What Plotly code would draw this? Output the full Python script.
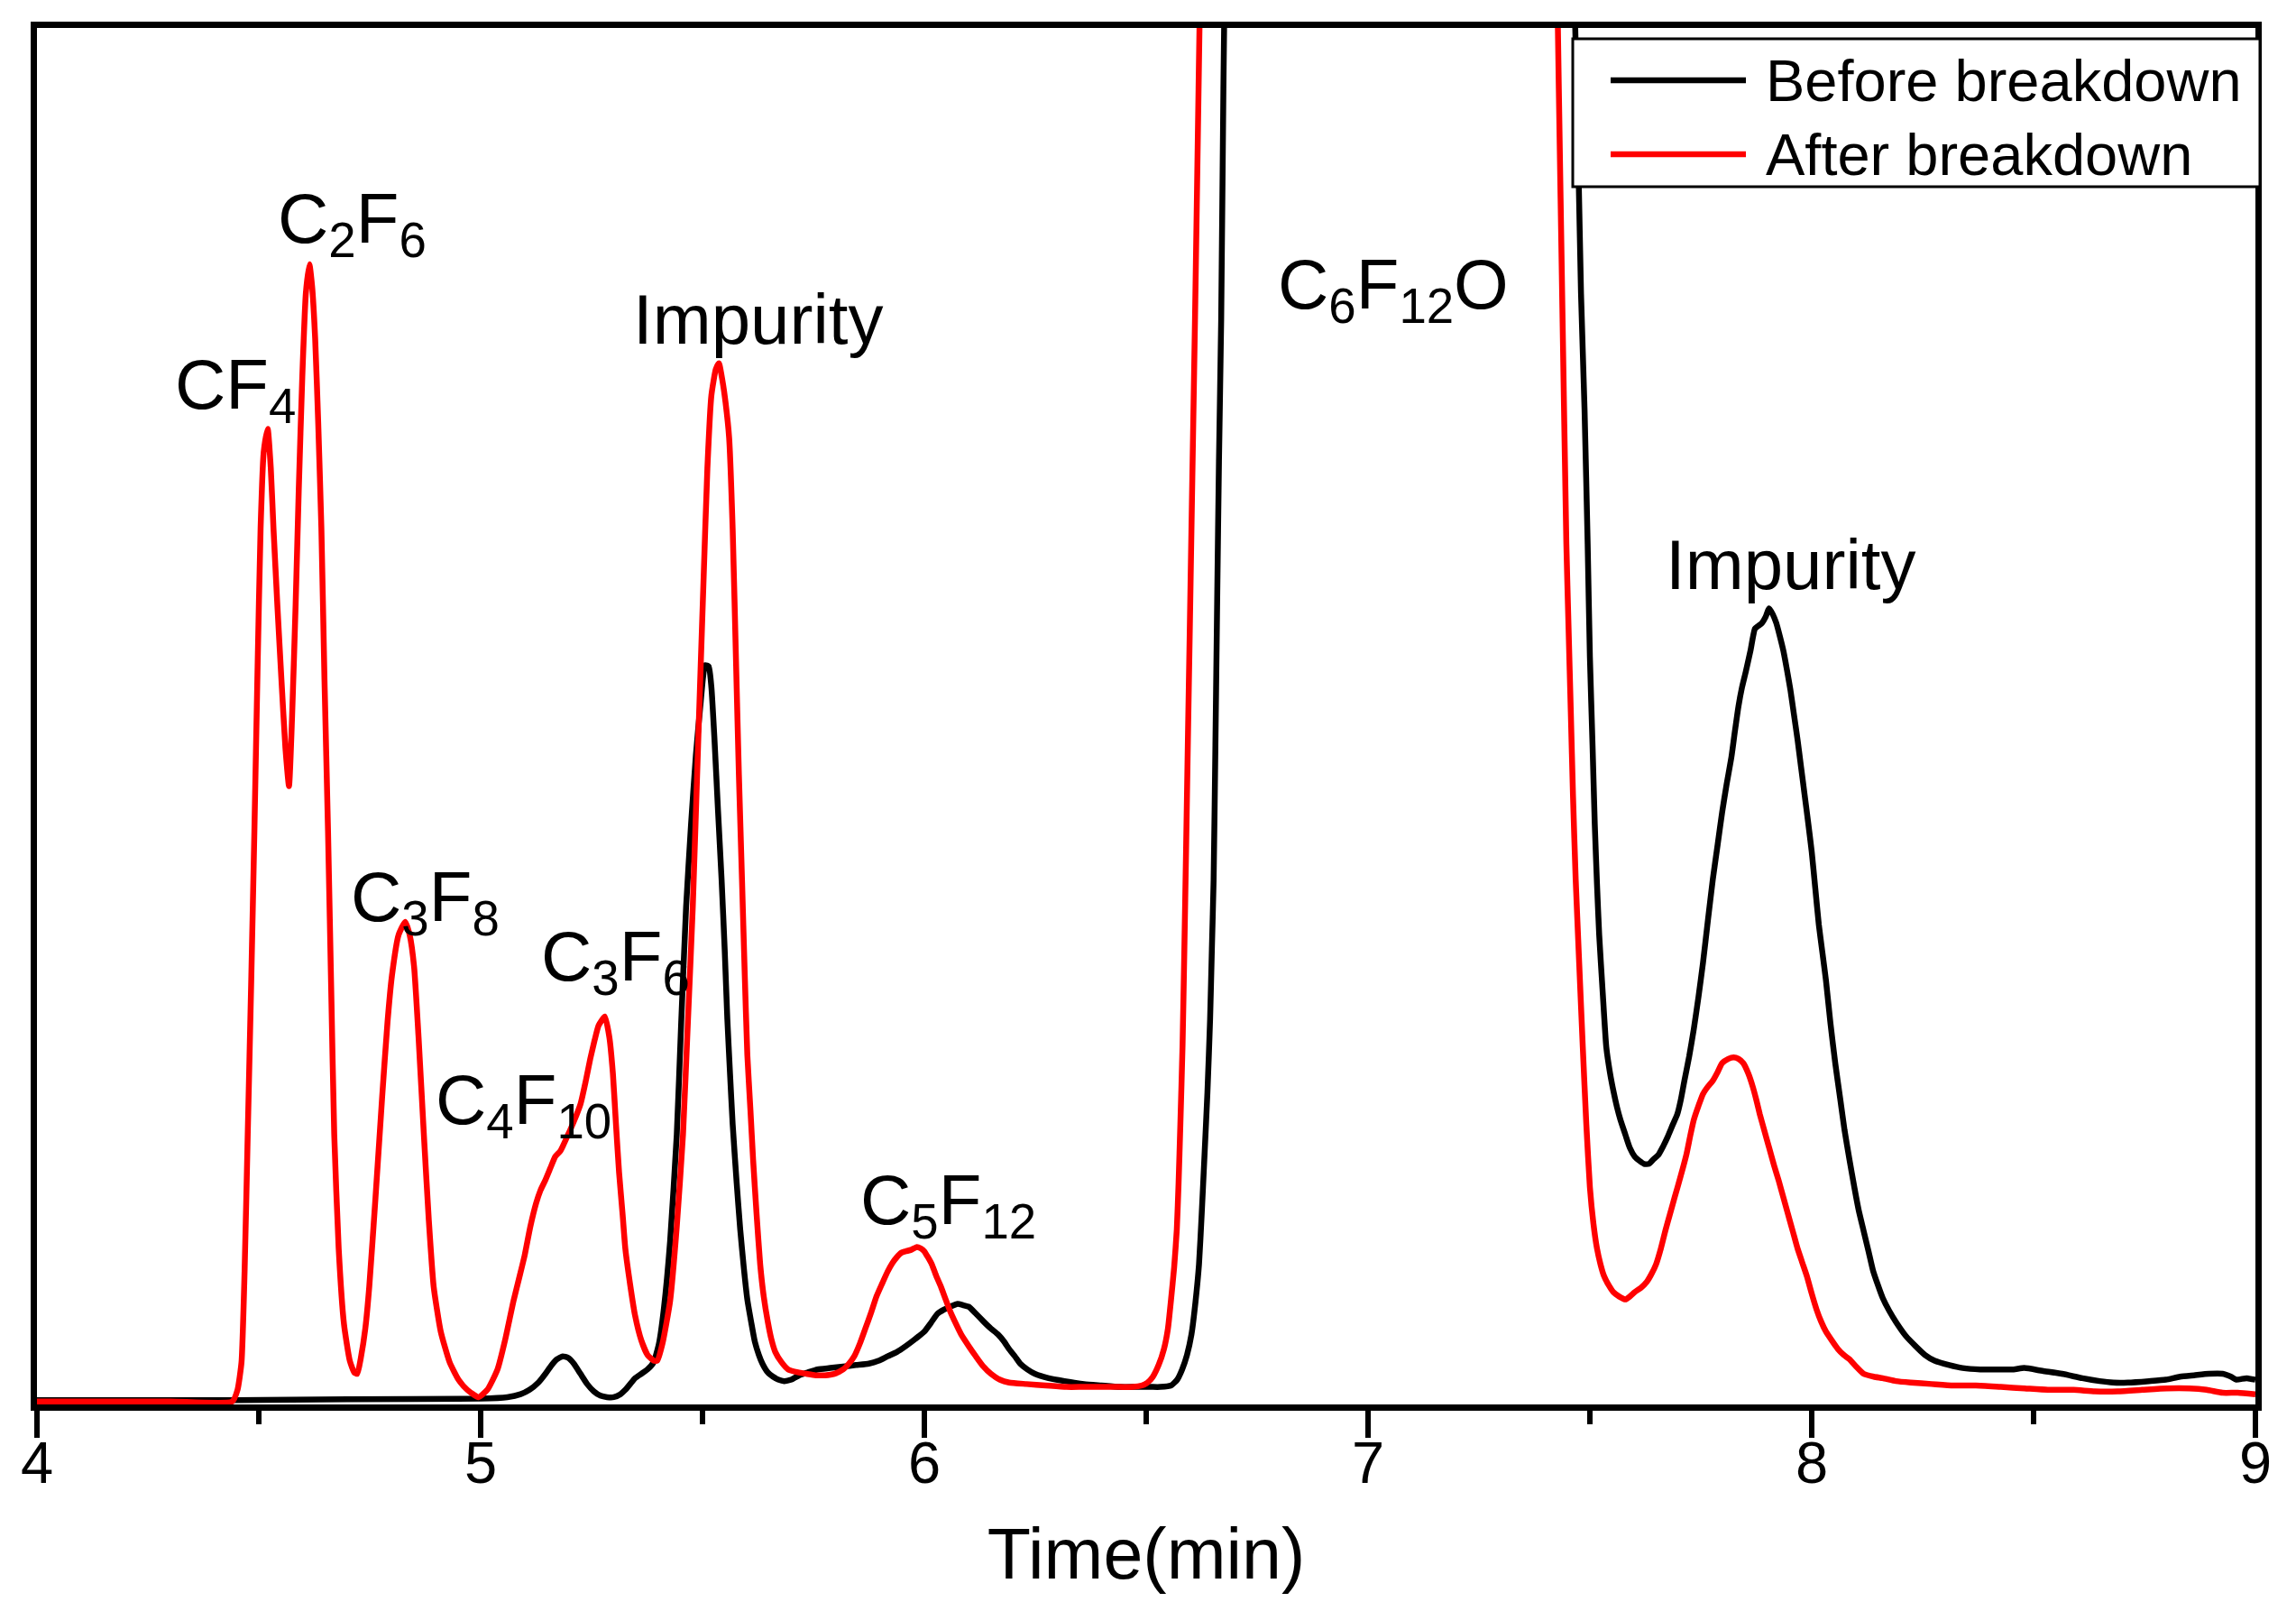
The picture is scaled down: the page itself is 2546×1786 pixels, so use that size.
import plotly.graph_objects as go

# chromatogram traces, signal in arbitrary units (0 = baseline)
red_time = [
    4.00, 4.30, 4.44, 4.452, 4.461, 4.468, 4.475, 4.483, 4.490, 4.497, 4.504, 4.511, 4.520, 4.527,
    4.533, 4.542, 4.551, 4.560, 4.568, 4.575, 4.583, 4.590, 4.598, 4.606, 4.614, 4.620, 4.627, 4.634,
    4.641, 4.648, 4.656, 4.663, 4.670, 4.680, 4.692, 4.705, 4.715, 4.722, 4.730, 4.740, 4.749, 4.763,
    4.778, 4.790, 4.800, 4.815, 4.830, 4.840, 4.850, 4.860, 4.872, 4.883, 4.894, 4.910, 4.930, 4.950,
    4.970, 4.995, 5.015, 5.038, 5.055, 5.074, 5.087, 5.099, 5.112, 5.125, 5.135, 5.146, 5.157, 5.168,
    5.180, 5.197, 5.210, 5.225, 5.237, 5.247, 5.257, 5.266, 5.280, 5.290, 5.298, 5.305, 5.312, 5.320,
    5.326, 5.337, 5.348, 5.362, 5.376, 5.390, 5.398, 5.410, 5.427, 5.442, 5.456, 5.467, 5.478, 5.490,
    5.502, 5.511, 5.520, 5.530, 5.537, 5.545, 5.552, 5.560, 5.568, 5.576, 5.582, 5.589, 5.595, 5.601,
    5.608, 5.614, 5.622, 5.630, 5.638, 5.647, 5.655, 5.664, 5.678, 5.693, 5.715, 5.734, 5.755, 5.776,
    5.797, 5.817, 5.830, 5.842, 5.855, 5.867, 5.880, 5.892, 5.905, 5.917, 5.928, 5.938, 5.948, 5.958,
    5.970, 5.983, 5.992, 6.000, 6.008, 6.017, 6.027, 6.037, 6.048, 6.058, 6.070, 6.083, 6.100, 6.116,
    6.133, 6.150, 6.170, 6.191, 6.230, 6.274, 6.320, 6.357, 6.400, 6.440, 6.470, 6.490, 6.503, 6.515,
    6.528, 6.540, 6.549, 6.556, 6.563, 6.569, 6.573, 6.577, 6.582, 6.586, 6.590, 6.594, 6.598, 6.602,
    6.606, 6.610, 6.614, 6.618, 6.622, 6.630, 6.650, 6.700, 7.000, 7.350, 7.400, 7.420, 7.430, 7.438,
    7.447, 7.452, 7.457, 7.462, 7.468, 7.476, 7.484, 7.492, 7.500, 7.508, 7.516, 7.524, 7.532, 7.542,
    7.553, 7.566, 7.580, 7.590, 7.601, 7.615, 7.628, 7.638, 7.649, 7.660, 7.670, 7.680, 7.691, 7.705,
    7.718, 7.726, 7.734, 7.745, 7.755, 7.766, 7.777, 7.788, 7.798, 7.812, 7.824, 7.835, 7.846, 7.857,
    7.867, 7.875, 7.883, 7.893, 7.904, 7.915, 7.926, 7.936, 7.947, 7.958, 7.968, 7.979, 7.989, 8.000,
    8.011, 8.021, 8.032, 8.045, 8.059, 8.072, 8.085, 8.100, 8.117, 8.140, 8.160, 8.190, 8.223, 8.270,
    8.319, 8.370, 8.426, 8.480, 8.532, 8.590, 8.638, 8.690, 8.745, 8.800, 8.851, 8.890, 8.926, 8.960,
    9.000,
]
red_signal = [
    0, 0, 0, 8, 27, 90, 183, 290, 391, 500, 599, 651, 667, 640,
    599, 545, 495, 448, 422, 470, 547, 625, 703, 760, 780, 765, 729, 670,
    599, 495, 391, 285, 183, 105, 53, 28, 20, 19, 30, 50, 79, 140,
    209, 260, 292, 320, 329, 320, 298, 250, 183, 125, 79, 48, 27, 15,
    8, 3, 8, 22, 42, 69, 85, 100, 120, 136, 145, 152, 160, 168,
    172, 183, 192, 204, 220, 235, 248, 258, 264, 250, 225, 190, 157, 128,
    105, 80, 59, 42, 32, 28, 28, 40, 69, 120, 183, 260, 339, 450,
    560, 640, 690, 708, 712, 700, 685, 661, 598, 502, 430, 358, 295, 238,
    200, 166, 128, 94, 72, 55, 43, 34, 27, 22, 20, 19, 18, 18,
    19, 22, 26, 31, 40, 50, 61, 72, 81, 89, 95, 99, 102, 103,
    104, 106, 105, 103, 99, 94, 86, 79, 70, 62, 54, 46, 38, 31,
    24, 19, 15, 13, 12, 11, 10, 10, 10, 10, 10, 11, 13, 17,
    25, 36, 50, 70, 92, 118, 150, 190, 245, 310, 380, 454, 525, 598,
    670, 742, 820, 900, 980, 1150, 1500, 2100, 2600, 2100, 1500, 1100, 900, 750,
    588, 530, 473, 415, 358, 300, 243, 190, 147, 122, 105, 94, 86, 80,
    75, 72, 70, 72, 75, 78, 82, 87, 94, 105, 117, 128, 140, 155,
    170, 182, 193, 203, 211, 216, 220, 226, 232, 235, 236, 235, 232, 225,
    216, 207, 197, 186, 174, 162, 151, 140, 128, 116, 105, 95, 86, 74,
    63, 55, 48, 42, 36, 32, 29, 24, 19, 17, 16, 14, 13, 12,
    11, 11, 10, 9, 8, 8, 7, 7, 8, 9, 9, 8, 6, 6,
    5,
]

black_time = [
    4.00, 4.45, 4.70, 5.00, 5.060, 5.090, 5.110, 5.130, 5.146, 5.160, 5.172, 5.185, 5.197, 5.210,
    5.225, 5.240, 5.255, 5.270, 5.285, 5.300, 5.315, 5.326, 5.337, 5.348, 5.362, 5.376, 5.390, 5.402,
    5.413, 5.427, 5.442, 5.452, 5.463, 5.474, 5.485, 5.496, 5.506, 5.514, 5.520, 5.527, 5.535, 5.543,
    5.550, 5.556, 5.562, 5.568, 5.577, 5.585, 5.593, 5.601, 5.610, 5.618, 5.627, 5.635, 5.647, 5.659,
    5.671, 5.684, 5.700, 5.718, 5.738, 5.759, 5.788, 5.817, 5.846, 5.875, 5.897, 5.917, 5.938, 5.958,
    5.980, 6.000, 6.015, 6.029, 6.044, 6.058, 6.075, 6.088, 6.100, 6.117, 6.133, 6.150, 6.166, 6.180,
    6.191, 6.204, 6.216, 6.232, 6.249, 6.280, 6.316, 6.360, 6.399, 6.440, 6.482, 6.510, 6.532, 6.556,
    6.570, 6.581, 6.592, 6.602, 6.611, 6.619, 6.625, 6.631, 6.638, 6.644, 6.648, 6.652, 6.656, 6.660,
    6.664, 6.669, 6.674, 6.680, 6.700, 6.750, 7.050, 7.400, 7.440, 7.458, 7.467, 7.474, 7.480, 7.488,
    7.495, 7.500, 7.506, 7.511, 7.516, 7.521, 7.529, 7.537, 7.545, 7.553, 7.561, 7.569, 7.580, 7.590,
    7.601, 7.612, 7.622, 7.633, 7.643, 7.654, 7.665, 7.676, 7.687, 7.697, 7.705, 7.713, 7.724, 7.734,
    7.745, 7.755, 7.766, 7.777, 7.788, 7.798, 7.808, 7.819, 7.827, 7.835, 7.843, 7.851, 7.862, 7.872,
    7.880, 7.888, 7.896, 7.904, 7.912, 7.920, 7.928, 7.936, 7.944, 7.952, 7.960, 7.968, 7.976, 7.984,
    7.992, 8.000, 8.008, 8.016, 8.024, 8.032, 8.042, 8.053, 8.064, 8.074, 8.085, 8.096, 8.106, 8.117,
    8.128, 8.138, 8.149, 8.160, 8.175, 8.191, 8.212, 8.234, 8.255, 8.277, 8.310, 8.340, 8.380, 8.426,
    8.455, 8.479, 8.520, 8.564, 8.610, 8.649, 8.680, 8.713, 8.760, 8.798, 8.830, 8.862, 8.895, 8.926,
    8.945, 8.957, 8.980, 9.000,
]
black_signal = [
    1, 1, 1.5, 2, 3, 5, 8, 13, 19, 25, 29, 31, 30, 26,
    19, 12, 7, 4, 3, 3, 5, 8, 12, 16, 19, 22, 27, 40,
    64, 110, 183, 260, 339, 395, 443, 480, 505, 504, 490, 454, 405, 358,
    310, 262, 225, 190, 150, 118, 92, 70, 54, 41, 32, 26, 20, 17,
    15, 14, 15, 18, 20, 22, 23, 24, 25, 26, 28, 31, 34, 38,
    43, 48, 54, 60, 63, 65, 67, 66, 65, 60, 55, 50, 46, 41,
    36, 31, 26, 22, 19, 16, 14, 12, 11, 10, 10, 10, 10, 11,
    15, 22, 32, 46, 68, 94, 128, 166, 212, 262, 310, 358, 450, 550,
    645, 742, 900, 1050, 1400, 2000, 2600, 2100, 1500, 1100, 942, 850, 760, 680,
    588, 511, 450, 396, 355, 320, 280, 243, 226, 213, 202, 193, 183, 174,
    168, 165, 163, 163, 166, 169, 175, 182, 190, 197, 207, 220, 237, 255,
    278, 301, 330, 358, 382, 404, 423, 442, 460, 477, 490, 500, 515, 530,
    532, 534, 538, 544, 540, 534, 525, 515, 502, 488, 471, 454, 435, 416,
    397, 377, 352, 327, 308, 289, 260, 232, 208, 186, 166, 147, 131, 117,
    103, 90, 80, 71, 62, 54, 45, 38, 32, 28, 25, 23, 22, 22,
    22, 23, 21, 19, 16, 14, 13, 13, 14, 15, 17, 18, 19, 19,
    17, 15, 16, 15,
]

series_names = ["Before breakdown", "After breakdown"]

# peak labels: (text, time, signal, anchor)
peak_labels = [
    ("CF<sub>4</sub>", 4.306, 694, "left"),
    ("C<sub>2</sub>F<sub>6</sub>", 4.538, 808, "left"),
    ("C<sub>3</sub>F<sub>8</sub>", 4.704, 343, "left"),
    ("C<sub>4</sub>F<sub>10</sub>", 4.895, 204, "left"),
    ("C<sub>3</sub>F<sub>6</sub>", 5.133, 302, "left"),
    ("Impurity", 5.625, 742, "center"),
    ("C<sub>5</sub>F<sub>12</sub>", 5.851, 135, "left"),
    ("C<sub>6</sub>F<sub>12</sub>O", 6.793, 763, "left"),
    ("Impurity", 7.952, 574, "center"),
]

# page is drawn with an 8 px body margin, so the figure is 16 px smaller
W, H = 2530, 1770
ML, MR, MT, MB = 33, 37, 23, 221
FONT = "Liberation Sans, Arial, sans-serif"


def px_x(px):
    # page pixel -> paper fraction
    return (px - 8 - ML) / (W - ML - MR)


def px_y(py):
    return (H - MB - (py - 8)) / (H - MT - MB)


fig = go.Figure()
fig.add_trace(go.Scatter(x=black_time, y=black_signal, mode="lines", name=series_names[0],
                         line=dict(color="black", width=6.5, shape="spline", smoothing=0.5)))
fig.add_trace(go.Scatter(x=red_time, y=red_signal, mode="lines", name=series_names[1],
                         line=dict(color="#ff0000", width=6.5, shape="spline", smoothing=0.5)))

for text, t, s, anchor in peak_labels:
    fig.add_annotation(x=t, y=s, xref="x", yref="y", text=text, showarrow=False,
                       xanchor=anchor, yanchor="middle", font=dict(size=78, color="black", family=FONT))

# hand-drawn legend box (long line samples like the original)
fig.add_shape(type="rect", xref="paper", yref="paper", x0=px_x(1744), x1=px_x(2506), y0=px_y(207), y1=px_y(43),
              line=dict(color="black", width=3), fillcolor="white", layer="above")
for name, color, row in zip(series_names, ["black", "#ff0000"], [89, 171]):
    fig.add_shape(type="line", xref="paper", yref="paper", x0=px_x(1786), x1=px_x(1936), y0=px_y(row), y1=px_y(row),
                  line=dict(color=color, width=6.5), layer="above")
    fig.add_annotation(x=px_x(1956), y=px_y(row), xref="paper", yref="paper", text=name, showarrow=False,
                       xanchor="left", yanchor="middle", font=dict(size=65, color="black", family=FONT))

fig.update_layout(
    width=W, height=H,
    margin=dict(l=ML, r=MR, t=MT, b=MB),
    paper_bgcolor="white", plot_bgcolor="white",
    showlegend=False,
    font=dict(family=FONT, color="black"),
)
fig.update_xaxes(
    range=[4, 9], dtick=1, tick0=4,
    ticks="outside", ticklen=30, tickwidth=6, tickcolor="black",
    minor=dict(dtick=0.5, ticks="outside", ticklen=15, tickwidth=6, tickcolor="black"),
    tickfont=dict(size=65, family=FONT), ticklabelstandoff=-28,
    title=dict(text="Time(min)", font=dict(size=79, family=FONT), standoff=40),
    showline=True, linewidth=7, linecolor="black", mirror=True,
    showgrid=False, zeroline=False,
)
fig.update_yaxes(
    range=[-2, 942], showticklabels=False, ticks="",
    showline=True, linewidth=7, linecolor="black", mirror=True,
    showgrid=False, zeroline=False,
)

fig.write_html("out.html")
